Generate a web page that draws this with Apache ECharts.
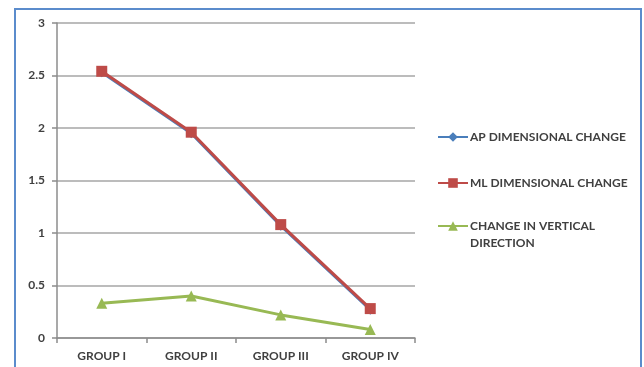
<!DOCTYPE html>
<html>
<head>
<meta charset="utf-8">
<script src="https://cdn.jsdelivr.net/npm/echarts@6/dist/echarts.min.js"></script>
<style>
html,body{margin:0;padding:0;background:#fff;}
#c{width:644px;height:367px;}
</style>
</head>
<body>
<div id="c"></div>
<script>
var categories = ['GROUP I', 'GROUP II', 'GROUP III', 'GROUP IV'];
var apChange = [2.53, 1.95, 1.07, 0.27];
var mlChange = [2.54, 1.96, 1.08, 0.28];
var verticalChange = [0.33, 0.40, 0.22, 0.08];
var yTicks = [0, 0.5, 1, 1.5, 2, 2.5, 3];
var seriesNames = ['AP DIMENSIONAL CHANGE', 'ML DIMENSIONAL CHANGE', 'CHANGE IN VERTICAL\nDIRECTION'];

var font = 'Lato, "Open Sans", sans-serif';
var txt = {fontFamily: font, fontSize: 12, fontWeight: 'bold', color: '#404040'};
var chart = echarts.init(document.getElementById('c'));
chart.setOption({
  animation: false,
  backgroundColor: '#fff',
  graphic: [{
    type: 'rect',
    shape: {x: 15, y: 9, width: 626, height: 400},
    style: {fill: 'none', stroke: '#5b8ccc', lineWidth: 2},
    silent: true
  }],
  grid: {left: 57, right: 229, top: 23, bottom: 29},
  legend: [{
    orient: 'vertical',
    left: 432, top: 123.5,
    itemWidth: 30, itemHeight: 12, itemGap: 29,
    data: [seriesNames[0], seriesNames[1]],
    textStyle: Object.assign({lineHeight: 17, padding: [0, 0, 0, -3]}, txt)
  }, {
    orient: 'vertical',
    left: 432, top: 195.5,
    itemWidth: 30, itemHeight: 12,
    data: [seriesNames[2]],
    formatter: function (name) { return '\n' + name; },
    textStyle: Object.assign({lineHeight: 17, padding: [0, 0, 0, -3]}, txt)
  }],
  xAxis: {
    type: 'category',
    data: categories,
    boundaryGap: true,
    axisLine: {lineStyle: {color: '#8c8c8c', width: 1.5}},
    axisTick: {show: true, length: 5, lineStyle: {color: '#8c8c8c', width: 1.5}},
    axisLabel: Object.assign({margin: 12}, txt)
  },
  yAxis: {
    type: 'value',
    min: 0, max: 3, interval: 0.5,
    axisLine: {show: true, lineStyle: {color: '#8c8c8c', width: 1.5}},
    axisTick: {show: true, length: 5, lineStyle: {color: '#8c8c8c', width: 1.5}},
    splitLine: {lineStyle: {color: '#a6a6a6', width: 1.5}},
    axisLabel: Object.assign({margin: 12, formatter: function (v) { return String(v); }}, txt)
  },
  series: [{
    name: seriesNames[0], type: 'line', data: apChange,
    symbol: 'diamond', symbolSize: 10,
    lineStyle: {width: 3, color: '#4a7ebb'},
    itemStyle: {color: '#4a7ebb'}
  }, {
    name: seriesNames[1], type: 'line', data: mlChange,
    symbol: 'rect', symbolSize: 11,
    lineStyle: {width: 3, color: '#be4b48'},
    itemStyle: {color: '#be4b48'}
  }, {
    name: seriesNames[2], type: 'line', data: verticalChange,
    symbol: 'triangle', symbolSize: 11,
    lineStyle: {width: 3, color: '#98b954'},
    itemStyle: {color: '#98b954'}
  }]
});
</script>
</body>
</html>
